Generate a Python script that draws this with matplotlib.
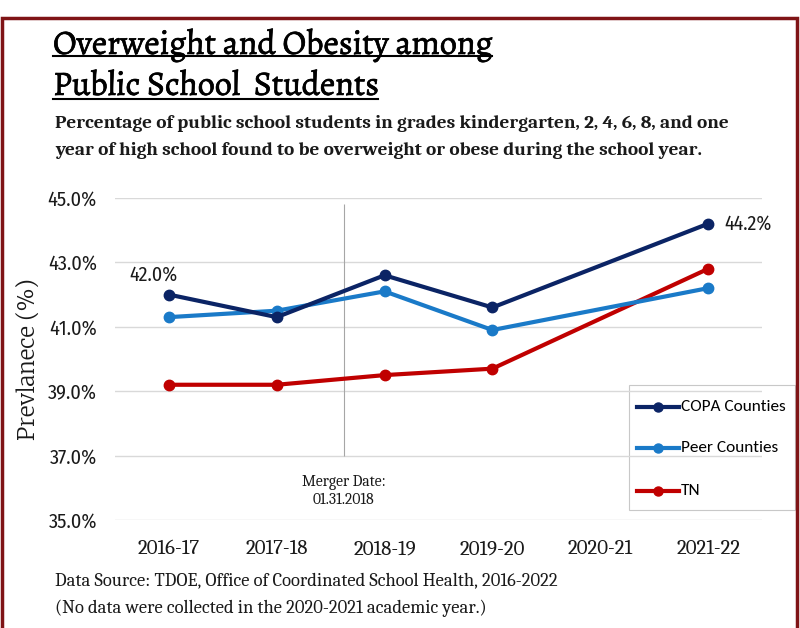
import matplotlib
matplotlib.use("Agg")
import matplotlib.pyplot as plt
import matplotlib.patheffects as pe
from matplotlib import font_manager
from matplotlib.lines import Line2D
from matplotlib.patches import Rectangle
from matplotlib.ticker import FuncFormatter

# ── Data ──────────────────────────────────
years = ["2016-17", "2017-18", "2018-19", "2019-20", "2020-21", "2021-22"]
# no data collected in 2020-21, so that slot is skipped
data_idx = [0, 1, 2, 3, 5]
copa = [42.0, 41.3, 42.6, 41.6, 44.2]
peer = [41.3, 41.5, 42.1, 40.9, 42.2]
tn = [39.2, 39.2, 39.5, 39.7, 42.8]
y_ticks = [35.0, 37.0, 39.0, 41.0, 43.0, 45.0]
merger_pos = 1.62

# ── Colors / fonts ──────────────────────────
COPA_COLOR = "#0b2465"
PEER_COLOR = "#1a7ac8"
TN_COLOR = "#c00000"
BORDER = "#7f1416"
GRID = "#d9d9d9"
TEXT = "#1a1a1a"

avail = {f.name for f in font_manager.fontManager.ttflist}


def pick(*names):
    return next((n for n in names if n in avail), "DejaVu Sans")


TITLE_FONT = pick("Alegreya", "Caladea")
SERIF = pick("Caladea", "PT Serif", "Source Serif 4", "Noto Serif", "Merriweather")
SANS = pick("Carlito", "Fira Sans Condensed")
TICK_SANS = pick("Fira Sans Condensed", "Carlito")
SLAB = pick("Roboto Slab", "Merriweather", "DejaVu Serif")
plt.rcParams["font.family"] = [SERIF, "DejaVu Serif"]

W, H = 800, 628
fig = plt.figure(figsize=(W / 100, H / 100), dpi=100, facecolor="white")


def fx(px):
    return px / W


def fy(py):
    return 1 - py / H


# dark red frame round the panel
fig.patches.append(Rectangle((fx(2), -0.01), fx(795), fy(18) + 0.01,
                             transform=fig.transFigure, fill=False,
                             edgecolor=BORDER, linewidth=2.5))

ax = fig.add_axes([fx(115), fy(520), fx(647), 322 / H])
for spine in ax.spines.values():
    spine.set_visible(False)
ax.set_xlim(-0.5, 5.5)
ax.set_ylim(35, 45)
ax.set_yticks(y_ticks)
ax.yaxis.set_major_formatter(FuncFormatter(lambda v, p: f"{v:.1f}%"))
ax.set_xticks(range(len(years)))
ax.set_xticklabels(years)
ax.tick_params(length=0, labelsize=13, colors=TEXT)
ax.tick_params(axis="x", pad=14, labelfontfamily=SERIF)
ax.tick_params(axis="y", pad=13, labelfontfamily=TICK_SANS)
ax.grid(axis="y", color=GRID, linewidth=1)
ax.set_axisbelow(True)

ylab = fig.text(fx(30), fy(359), "Prevlanece (%)", family=SLAB, fontsize=13,
                color=TEXT, rotation=90, ha="center", va="center")

# merger marker
ax.vlines(merger_pos, 37.0, 44.8, color="#a6a6a6", linewidth=0.8)
merger = ax.text(merger_pos, 35.9, "Merger Date:\n01.31.2018", ha="center", va="center",
                 fontsize=11, color=TEXT, linespacing=1.2)

series = [("COPA Counties", copa, COPA_COLOR, 5),
          ("Peer Counties", peer, PEER_COLOR, 4),
          ("TN", tn, TN_COLOR, 3)]
for name, vals, color, z in series:
    ax.plot(data_idx, vals, color=color, lw=3, marker="o", ms=7.5, label=name, zorder=z)

lab_first = ax.annotate(f"{copa[0]:.1f}%", (data_idx[0], copa[0]), xytext=(-11, 14),
                        textcoords="offset points", ha="center", va="center",
                        family=TICK_SANS, fontsize=13, color=TEXT)
lab_last = ax.annotate(f"{copa[-1]:.1f}%", (data_idx[-1], copa[-1]), xytext=(11.5, 0),
                       textcoords="offset points", ha="left", va="center",
                       family=TICK_SANS, fontsize=13, color=TEXT)

# ── Legend: box, sample lines and names ──────────
fig.patches.append(Rectangle((fx(629), fy(510)), fx(166), 125 / H,
                             transform=fig.transFigure, facecolor="white",
                             edgecolor="#c8c8c8", linewidth=0.8, zorder=0))
ax.set_zorder(1)
ax.patch.set_alpha(0)
leg_rows = [407, 448, 491]
leg_texts = []
for (name, vals, color, z), row in zip(series, leg_rows):
    fig.add_artist(Line2D([fx(637), fx(658), fx(679)], [fy(row)] * 3,
                          transform=fig.transFigure, color=color, lw=3,
                          marker="o", ms=6.5, markevery=[1], zorder=3))
    leg_texts.append(fig.text(fx(681), fy(row), name, family=SANS, fontsize=12,
                              color="black", va="center", ha="left", zorder=3))

# ── Title and notes ──────────────────────────
stroke = [pe.withStroke(linewidth=0.5, foreground="black")]
t1 = fig.text(fx(53), fy(45), "Overweight and Obesity among", family=TITLE_FONT,
              fontsize=23, color="black", va="center", path_effects=stroke)
t2 = fig.text(fx(53), fy(86), "Public School  Students", family=TITLE_FONT,
              fontsize=23, color="black", va="center", path_effects=stroke)
s1 = fig.text(fx(55), fy(124),
              "Percentage of public school students in grades kindergarten, 2, 4, 6, 8, and one",
              fontsize=13.5, fontweight="bold", color=TEXT, va="center")
s2 = fig.text(fx(55), fy(150),
              "year of high school found to be overweight or obese during the school year.",
              fontsize=13.5, fontweight="bold", color=TEXT, va="center")
f1 = fig.text(fx(55), fy(582),
              "Data Source: TDOE, Office of Coordinated School Health, 2016-2022",
              fontsize=12, color=TEXT, va="center")
f2 = fig.text(fx(55), fy(608),
              "(No data were collected in the 2020-2021 academic year.)",
              fontsize=12, color=TEXT, va="center")

# size texts to their measured widths (px)
fig.canvas.draw()
renderer = fig.canvas.get_renderer()


def scale_for(t, width_px, use_height=False):
    bb = t.get_window_extent(renderer)
    return width_px / (bb.height if use_height else bb.width)


for t, wpx in ((t1, 440), (s1, 672), (f1, 498), (lab_first, 48), (merger, 84),
               (leg_texts[0], 105)):
    t.set_fontsize(t.get_fontsize() * scale_for(t, wpx))
t2.set_fontsize(t1.get_fontsize())
s2.set_fontsize(s1.get_fontsize())
f2.set_fontsize(f1.get_fontsize())
lab_last.set_fontsize(lab_first.get_fontsize())
for t in leg_texts[1:]:
    t.set_fontsize(leg_texts[0].get_fontsize())
ylab.set_fontsize(ylab.get_fontsize() * scale_for(ylab, 162, use_height=True))

ysz = 13 * scale_for(ax.get_yticklabels()[-1], 49)
xsz = 13 * scale_for(ax.get_xticklabels()[0], 62)
ax.tick_params(axis="y", labelsize=ysz)
ax.tick_params(axis="x", labelsize=xsz)

# underline both title lines
fig.canvas.draw()
inv = fig.transFigure.inverted()
for t, uy in ((t1, 56), (t2, 99)):
    bb = t.get_window_extent(renderer).transformed(inv)
    fig.add_artist(Line2D([bb.x0, bb.x1], [fy(uy), fy(uy)],
                          transform=fig.transFigure, color="black", linewidth=1.5))

fig.savefig("out.png", dpi=100, facecolor="white")
